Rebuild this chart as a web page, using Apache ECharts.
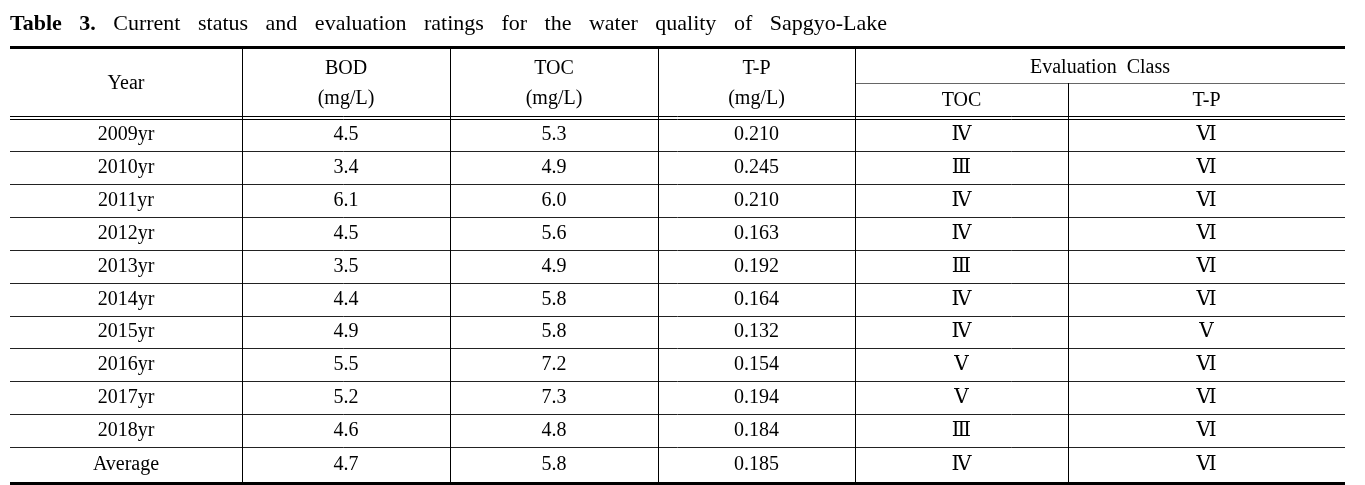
<!DOCTYPE html>
<html><head><meta charset="utf-8">
<script src="https://cdn.jsdelivr.net/npm/echarts@6/dist/echarts.min.js"></script>
<style>html,body{margin:0;padding:0;background:#fff}#c{width:1365px;height:485px}</style>
</head><body><div id="c"></div>
<script>
// ---- data ----
const titleLabel = ['Table', '3.'];
const titleText = 'Current status and evaluation ratings for the water quality of Sapgyo-Lake';
const years = ['2009yr','2010yr','2011yr','2012yr','2013yr','2014yr','2015yr','2016yr','2017yr','2018yr','Average'];
const bod = [4.5, 3.4, 6.1, 4.5, 3.5, 4.4, 4.9, 5.5, 5.2, 4.6, 4.7];
const toc = [5.3, 4.9, 6.0, 5.6, 4.9, 5.8, 5.8, 7.2, 7.3, 4.8, 5.8];
const tp = [0.210, 0.245, 0.210, 0.163, 0.192, 0.164, 0.132, 0.154, 0.194, 0.184, 0.185];
const tocClass = ['Ⅳ','Ⅲ','Ⅳ','Ⅳ','Ⅲ','Ⅳ','Ⅳ','Ⅴ','Ⅴ','Ⅲ','Ⅳ'];
const tpClass = ['Ⅵ','Ⅵ','Ⅵ','Ⅵ','Ⅵ','Ⅵ','Ⅴ','Ⅵ','Ⅵ','Ⅵ','Ⅵ'];
const headTop = ['Year', 'BOD', 'TOC', 'T-P', 'Evaluation  Class'];
const headUnit = ['(mg/L)', '(mg/L)', '(mg/L)'];
const headSub = ['TOC', 'T-P'];

// ---- layout (table-local units) ----
const colEdges = [0, 232, 440, 648, 845, 1058, 1335];
const rowEdges = [72, 104, 137, 170, 203, 236, 269, 301, 334, 367, 400, 436];
const tableH = 436;
const evalSplitY = 36;
const dbl1 = 69;
const headerRow1Y = 22, headerRow2Y = 52, yearY = 37;
const titleLeft = 10, titleRight = 887;

const FONT = "'Liberation Serif','DejaVu Serif','Times New Roman',serif";
const mid = (i) => (colEdges[i] + colEdges[i + 1]) / 2;

// cells
const cells = [];
cells.push([mid(0), yearY, headTop[0]]);
for (let c = 1; c <= 3; c++) {
  cells.push([mid(c), headerRow1Y, headTop[c]]);
  cells.push([mid(c), headerRow2Y, headUnit[c - 1]]);
}
cells.push([(colEdges[4] + colEdges[6]) / 2, headerRow1Y - 1, headTop[4]]);
cells.push([mid(4), headerRow2Y + 2, headSub[0]]);
cells.push([mid(5), headerRow2Y + 2, headSub[1]]);
years.forEach((y, i) => {
  const cy = (rowEdges[i] + rowEdges[i + 1]) / 2;
  const row = [y, bod[i].toFixed(1), toc[i].toFixed(1), tp[i].toFixed(3), tocClass[i], tpClass[i]];
  row.forEach((t, c) => cells.push([mid(c), cy, t]));
});

// lines: [x1, y1, x2, y2, width, color]
const segs = [];
segs.push([0, 0, 1335, 0, 3, '#000']);
segs.push([0, tableH, 1335, tableH, 3, '#000']);
segs.push([colEdges[4], evalSplitY, 1335, evalSplitY, 1, '#666']);
segs.push([0, dbl1, 1335, dbl1, 1, '#000']);
segs.push([0, rowEdges[0], 1335, rowEdges[0], 1, '#000']);
for (let r = 1; r < rowEdges.length - 1; r++) segs.push([0, rowEdges[r], 1335, rowEdges[r], 1, '#222']);
for (let c = 1; c <= 4; c++) segs.push([colEdges[c], 0, colEdges[c], tableH, 1, '#000']);
segs.push([colEdges[5], evalSplitY, colEdges[5], tableH, 1, '#000']);

// title: spread words so the line spans titleLeft..titleRight
const words = titleText.split(' ');
const cv = document.createElement('canvas').getContext('2d');
cv.font = "bold 22px " + FONT;
let used = titleLabel.reduce((s, w) => s + cv.measureText(w).width, 0);
cv.font = "22px " + FONT;
used += words.reduce((s, w) => s + cv.measureText(w).width, 0);
const gaps = titleLabel.length - 1 + words.length;
const gap = Math.max(4, (titleRight - titleLeft - used) / gaps);
const titleRich = titleLabel.map(w => '{b|' + w + '}').join('{s| }') + words.map(w => '{s| }{n|' + w + '}').join('');

const chart = echarts.init(document.getElementById('c'), null, {renderer: 'canvas'});
chart.setOption({
  animation: false,
  backgroundColor: '#fff',
  title: {
    left: titleLeft, top: 13, padding: 0,
    text: titleRich,
    textStyle: {
      fontWeight: 'normal',
      rich: {
        b: {fontFamily: FONT, fontWeight: 'bold', fontSize: 22, color: '#000'},
        n: {fontFamily: FONT, fontWeight: 'normal', fontSize: 22, color: '#000'},
        s: {fontFamily: FONT, fontWeight: 'normal', fontSize: 22, width: gap}
      }
    }
  },
  grid: {left: 10, right: 20, top: 47, bottom: 2},
  xAxis: {type: 'value', min: 0, max: 1335, show: false},
  yAxis: {type: 'value', min: 0, max: tableH, inverse: true, show: false},
  series: [
    {
      type: 'custom', silent: true, clip: false,
      data: segs.map(s => [s[0], s[1], s[2], s[3]]),
      encode: {x: [0, 2], y: [1, 3]},
      renderItem: function (params, api) {
        const s = segs[params.dataIndex];
        const a = api.coord([s[0], s[1]]), b = api.coord([s[2], s[3]]);
        const off = s[4] % 2 === 1 ? 0.5 : 0;
        const horiz = s[1] === s[3];
        let x1 = a[0], y1 = a[1], x2 = b[0], y2 = b[1];
        if (horiz) { y1 = y2 = Math.round(y1) + off; }
        else { x1 = x2 = Math.round(x1) + off; }
        return {type: 'line', shape: {x1, y1, x2, y2}, style: {stroke: s[5], lineWidth: s[4]}};
      }
    },
    {
      type: 'custom', silent: true, clip: false,
      data: cells.map(c => [c[0], c[1]]),
      encode: {x: 0, y: 1},
      renderItem: function (params, api) {
        const c = cells[params.dataIndex];
        const p = api.coord([c[0], c[1]]);
        return {type: 'text', x: p[0], y: p[1],
          style: {text: c[2], fill: '#000', fontFamily: FONT, fontSize: 20, align: 'center', verticalAlign: 'middle'}};
      }
    }
  ]
});
</script></body></html>
